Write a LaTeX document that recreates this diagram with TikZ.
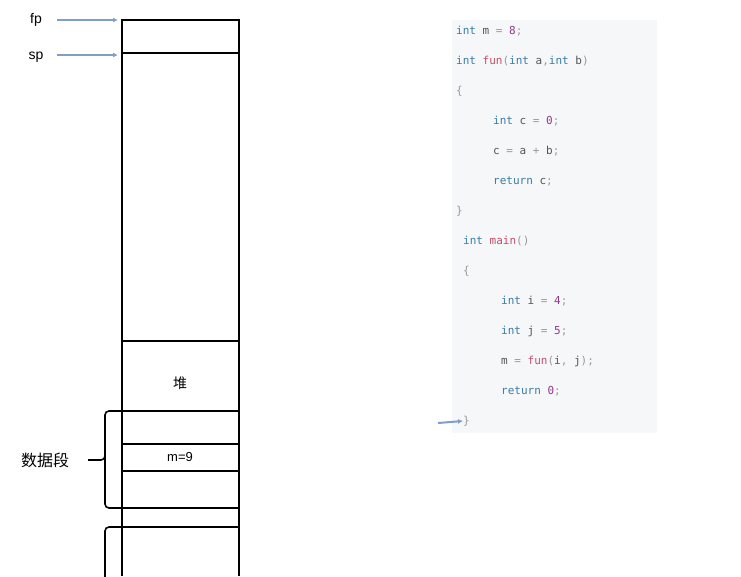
\documentclass[tikz,border=0pt]{standalone}
\usepackage{fontspec}
\setmainfont{Liberation Sans}
\newfontfamily\cjk{Noto Sans CJK SC}
\newfontfamily\codefont{DejaVu Sans Mono}
\usetikzlibrary{arrows.meta}
\definecolor{kw}{HTML}{3A7CA5}
\definecolor{fn}{HTML}{C0506A}
\definecolor{num}{HTML}{8E3A8A}
\definecolor{pun}{HTML}{999999}
\definecolor{txt}{HTML}{555555}
\definecolor{codebg}{HTML}{F6F7F8}
\definecolor{ptr}{HTML}{7F9FC8}
\newcommand{\kw}[1]{\textcolor{kw}{#1}}
\newcommand{\fn}[1]{\textcolor{fn}{#1}}
\newcommand{\nm}[1]{\textcolor{num}{#1}}
\newcommand{\pu}[1]{\textcolor{pun}{#1}}
\begin{document}
\begin{tikzpicture}[x=1pt,y=-1pt,
  cell/.style={line width=2pt},
  pointer/.style={-{Latex[length=5pt,width=5pt]},ptr,line width=2pt},
  codeline/.style={anchor=west,inner sep=0pt,font=\codefont\fontsize{11}{13}\selectfont,text=txt},
  label/.style={inner sep=0pt,font=\fontsize{14}{16}\selectfont}]
\useasboundingbox (0,0) rectangle (741,576);

%% Stack frame
\draw[cell] (122,576) -- (122,20) -- (239,20) -- (239,576);
\foreach \y in {53,341,411,444,471,508,527}{
    \draw[cell] (122,\y) -- (239,\y);
}
\node[label,font=\cjk\fontsize{14}{16}\selectfont] (heap) at (180,383) {堆};
\node[label,font=\fontsize{13}{15}\selectfont] (mval) at (180,457) {m=9};

%% Braces
\draw[line width=1.6pt,rounded corners=4pt] (122,411) -- (105,411) -- (105,460) -- (88,460);
\draw[line width=1.6pt,rounded corners=4pt] (105,455) -- (105,508) -- (122,508);
\draw[line width=1.6pt,rounded corners=4pt] (122,527) -- (105,527) -- (105,580);
\node[label,font=\cjk\fontsize{16}{18}\selectfont] (data) at (45,460) {数据段};

%% Pointers
\node[label] (fp) at (36,20) {fp};
\node[label] (sp) at (36,57) {sp};
\coordinate (fptip) at (118,20);
\coordinate (sptip) at (118,55);
\draw[pointer] (57,20) -- (fptip);
\draw[pointer] (57,55) -- (sptip);

%% Code
\fill[codebg] (452,20) rectangle (657,433);
\node[codeline] (c1) at (456,31) {\kw{int} m \pu{=} \nm{8}\pu{;}};
\node[codeline] (c2) at (456,61) {\kw{int} \fn{fun}\pu{(}\kw{int} a\pu{,}\kw{int} b\pu{)}};
\node[codeline] (c3) at (456,91) {\pu{\{}};
\node[codeline] (c4) at (493,121) {\kw{int} c \pu{=} \nm{0}\pu{;}};
\node[codeline] (c5) at (493,151) {c \pu{=} a \pu{+} b\pu{;}};
\node[codeline] (c6) at (493,181) {\kw{return} c\pu{;}};
\node[codeline] (c7) at (456,211) {\pu{\}}};
\node[codeline] (c8) at (463,241) {\kw{int} \fn{main}\pu{()}};
\node[codeline] (c9) at (463,271) {\pu{\{}};
\node[codeline] (c10) at (501,301) {\kw{int} i \pu{=} \nm{4}\pu{;}};
\node[codeline] (c11) at (501,331) {\kw{int} j \pu{=} \nm{5}\pu{;}};
\node[codeline] (c12) at (501,361) {m \pu{=} \fn{fun}\pu{(}i\pu{,} j\pu{);}};
\node[codeline] (c13) at (501,391) {\kw{return} \nm{0}\pu{;}};
\node[codeline] (c14) at (463,421) {\pu{\}}};
\coordinate (pcstart) at (438,423);
\draw[pointer] (pcstart) -- (c14.west);
\end{tikzpicture}
\end{document}
